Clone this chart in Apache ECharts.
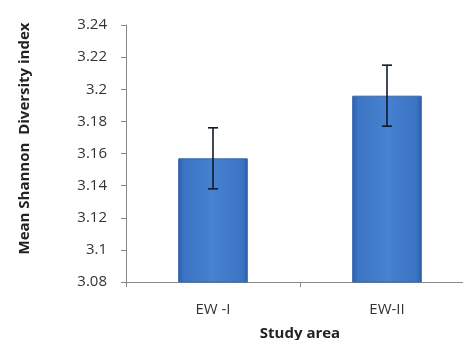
<!DOCTYPE html>
<html>
<head>
<meta charset="utf-8">
<script src="https://cdn.jsdelivr.net/npm/echarts@6/dist/echarts.min.js"></script>
<style>html,body{margin:0;padding:0;background:#fff;}#c{width:463px;height:340px;}</style>
</head>
<body>
<div id="c"></div>
<script>
const categories = ['EW -I', 'EW-II'];
const meanValues = [3.157, 3.196];
const errorValues = [0.019, 0.019];
const yTicks = ['3.08','3.1','3.12','3.14','3.16','3.18','3.2','3.22','3.24'];

const chart = echarts.init(document.getElementById('c'));
const font = '"Open Sans", "Liberation Sans", sans-serif';
const errData = categories.map((c, i) => [i, meanValues[i] - errorValues[i], meanValues[i] + errorValues[i]]);

chart.setOption({
  animation: false,
  backgroundColor: '#fff',
  grid: { left: 126, top: 25, right: -11, bottom: 58, containLabel: false, outerBoundsMode: 'none' },
  xAxis: {
    type: 'category',
    data: categories,
    name: 'Study area',
    nameLocation: 'middle',
    nameGap: 44,
    nameTextStyle: { fontFamily: font, fontSize: 15, fontWeight: 'bold', color: '#222' },
    axisLine: { lineStyle: { color: '#888', width: 1 } },
    axisTick: { show: true, length: 5, lineStyle: { color: '#888' } },
    axisLabel: { fontFamily: font, fontSize: 15, color: '#333', margin: 20 }
  },
  yAxis: {
    type: 'value',
    min: 3.08, max: 3.24, interval: 0.02,
    name: 'Mean Shannon  Diversity index',
    nameLocation: 'middle',
    nameGap: 94,
    nameTextStyle: { fontFamily: font, fontSize: 15, fontWeight: 'bold', color: '#222', padding: [0, 0, 0, 30] },
    axisLine: { show: true, lineStyle: { color: '#888', width: 1 } },
    axisTick: { show: true, length: 5, lineStyle: { color: '#888' } },
    splitLine: { show: false },
    axisLabel: {
      fontFamily: font, fontSize: 15, color: '#333', margin: 19,
      formatter: function (v) { return yTicks[Math.round((v - 3.08) / 0.02)]; }
    }
  },
  series: [
    {
      type: 'bar',
      data: meanValues,
      barWidth: '40%',
      itemStyle: {
        color: new echarts.graphic.LinearGradient(0, 0, 1, 0, [
          { offset: 0, color: '#2d5ea8' },
          { offset: 0.08, color: '#3b74c4' },
          { offset: 0.5, color: '#4682cf' },
          { offset: 0.92, color: '#3b74c4' },
          { offset: 1, color: '#2d5ea8' }
        ]),
        borderColor: '#3466ad',
        borderWidth: 1
      }
    },
    {
      type: 'custom',
      data: errData,
      z: 10,
      renderItem: function (params, api) {
        const x = api.value(0);
        const lo = api.coord([x, api.value(1)]);
        const hi = api.coord([x, api.value(2)]);
        const hw = 5;
        const st = { stroke: '#111a2e', lineWidth: 1.6 };
        return {
          type: 'group',
          children: [
            { type: 'line', shape: { x1: hi[0], y1: hi[1], x2: lo[0], y2: lo[1] }, style: st },
            { type: 'line', shape: { x1: hi[0] - hw, y1: hi[1], x2: hi[0] + hw, y2: hi[1] }, style: st },
            { type: 'line', shape: { x1: lo[0] - hw, y1: lo[1], x2: lo[0] + hw, y2: lo[1] }, style: st }
          ]
        };
      }
    }
  ]
});
</script>
</body>
</html>
